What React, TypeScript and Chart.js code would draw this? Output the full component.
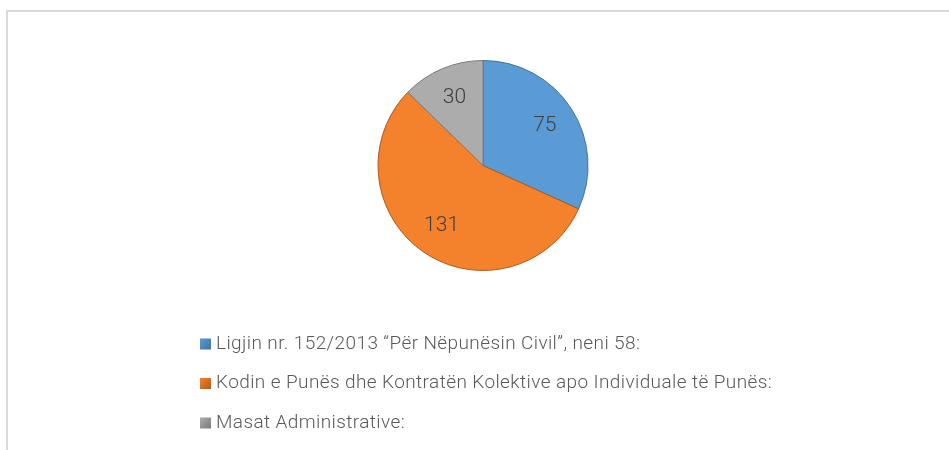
import React, { useEffect, useRef } from "react";
import { Chart, registerables } from "chart.js";

Chart.register(...registerables);

const categories = [
  "Ligjin nr. 152/2013 “Për Nëpunësin Civil”, neni 58:",
  "Kodin e Punës dhe Kontratën Kolektive apo Individuale të Punës:",
  "Masat Administrative:",
];
const values = [75, 131, 30];
const colors = ["#5b9bd5", "#f4812b", "#acacac"];
const borderColors = ["#41719c", "#ae5a21", "#7b7b7b"];

const FONT = "Roboto";

const labelPlugin = {
  id: "sliceLabels",
  afterDatasetsDraw(chart: any) {
    const ctx = chart.ctx;
    const meta = chart.getDatasetMeta(0);
    ctx.save();
    ctx.font = `300 21px ${FONT}`;
    ctx.fillStyle = "#404040";
    ctx.textAlign = "center";
    ctx.textBaseline = "middle";
    meta.data.forEach((arc: any, i: number) => {
      const p = arc.getProps(["x", "y", "startAngle", "endAngle", "outerRadius"], true);
      const mid = (p.startAngle + p.endAngle) / 2;
      const r = p.outerRadius * 0.7;
      ctx.fillText(String(chart.data.datasets[0].data[i]), p.x + Math.cos(mid) * r, p.y + Math.sin(mid) * r);
    });
    ctx.restore();
  },
};

const legendPlugin = {
  id: "vertLegend",
  afterDraw(chart: any) {
    const ctx = chart.ctx;
    const labels = chart.data.labels as string[];
    const bg = chart.data.datasets[0].backgroundColor as string[];
    const x0 = 200;
    const y0 = 344;
    const step = 39.5;
    ctx.save();
    labels.forEach((lab, i) => {
      const cy = y0 + i * step;
      const g = ctx.createLinearGradient(x0, cy - 5.5, x0 + 11, cy + 5.5);
      g.addColorStop(0, bg[i]);
      g.addColorStop(1, borderColors[i]);
      ctx.fillStyle = g;
      ctx.fillRect(x0, cy - 5.5, 11, 11);
      ctx.font = `300 19px ${FONT}`;
      try {
        (ctx as any).letterSpacing = "0.4px";
      } catch (e) {}
      ctx.fillStyle = "#595959";
      ctx.textAlign = "left";
      ctx.textBaseline = "middle";
      ctx.fillText(lab, x0 + 16, cy);
    });
    ctx.restore();
  },
};

export default function App() {
  const ref = useRef<HTMLCanvasElement>(null);
  useEffect(() => {
    if (!ref.current) return;
    const chart = new Chart(ref.current, {
      type: "pie",
      data: {
        labels: categories,
        datasets: [
          {
            data: values,
            backgroundColor: colors,
            borderColor: borderColors,
            borderWidth: 1,
            hoverBorderWidth: 1,
            hoverOffset: 0,
          },
        ],
      },
      options: {
        responsive: false,
        animation: false,
        layout: { padding: { top: 60, bottom: 179, left: 377.5, right: 360.5 } },
        plugins: { legend: { display: false }, tooltip: { enabled: false } },
      },
      plugins: [labelPlugin, legendPlugin],
    });
    return () => chart.destroy();
  }, []);
  return (
    <div style={{ position: "fixed", left: 0, top: 0, width: 949, height: 450, background: "#fff", overflow: "hidden" }}>
      <div
        style={{
          position: "absolute",
          left: 6,
          top: 10,
          width: 1000,
          height: 500,
          borderLeft: "2px solid #d9d9d9",
          borderTop: "2px solid #d9d9d9",
        }}
      />
      <canvas ref={ref} width={949} height={450} style={{ position: "absolute", left: 0, top: 0 }} />
    </div>
  );
}
